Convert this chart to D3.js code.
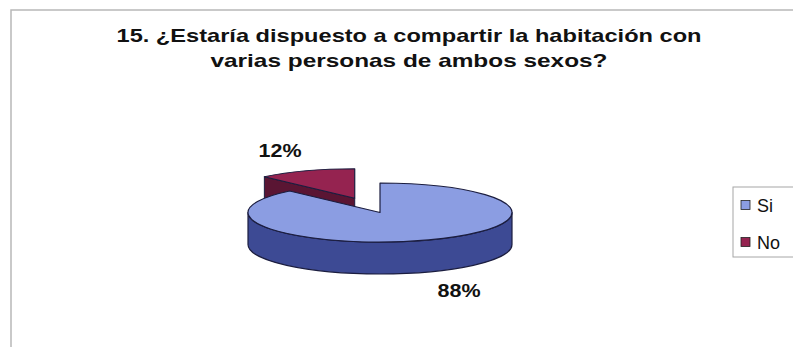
<!DOCTYPE html>
<html>
<head>
<meta charset="utf-8">
<script src="https://cdn.jsdelivr.net/npm/d3@7"></script>
<style>
  html, body { margin: 0; padding: 0; background: #ffffff; }
  svg { display: block; }
  text { font-family: "Liberation Sans", Arial, sans-serif; }
</style>
</head>
<body>
<svg id="chart" width="793" height="347"></svg>
<script>
// Survey answers (percent of respondents)
const categories = ["Si", "No"];
const values = [88, 12];
const titleLines = [
  "15. ¿Estaría dispuesto a compartir la habitación con",
  "varias personas de ambos sexos?"
];

const topColors  = ["#8b9de2", "#952350"];
const sideColors = ["#3d4a94", "#5a1533"];
const edgeColor  = "#1b1d3f";

const svg = d3.select("#chart");

// Chart area frame
svg.append("rect")
  .attr("x", 11).attr("y", 10)
  .attr("width", 820).attr("height", 400)
  .attr("fill", "none")
  .attr("stroke", "#b8b8b8")
  .attr("stroke-width", 1.5);

// Title
const titleWidths = [585, 397];
const titleY = [42, 67];
svg.selectAll("text.title")
  .data(titleLines)
  .join("text")
  .attr("class", "title")
  .attr("x", 409)
  .attr("y", (d, i) => titleY[i])
  .attr("text-anchor", "middle")
  .attr("font-size", 19)
  .attr("font-weight", "bold")
  .attr("fill", "#111")
  .attr("textLength", (d, i) => titleWidths[i])
  .attr("lengthAdjust", "spacingAndGlyphs")
  .text(d => d);

// 3D pie geometry
const cx = 380, cy = 212.5, rx = 132, ry = 29.5, depth = 32;
const explode = [0, 0.52];

const pie = d3.pie().sort(null).value(d => d.value);
const arcs = pie(categories.map((c, i) => ({ name: c, value: values[i], i })));

function offset(d) {
  const e = explode[d.index];
  const mid = (d.startAngle + d.endAngle) / 2;
  return [e * rx * Math.sin(mid), -e * ry * Math.cos(mid)];
}
function pt(a, o, dy = 0) {
  return [cx + o[0] + rx * Math.sin(a), cy + o[1] - ry * Math.cos(a) + dy];
}
function topPath(d) {
  const o = offset(d);
  const p0 = pt(d.startAngle, o), p1 = pt(d.endAngle, o);
  const large = (d.endAngle - d.startAngle) > Math.PI ? 1 : 0;
  return `M${cx + o[0]},${cy + o[1]}L${p0}A${rx},${ry} 0 ${large} 1 ${p1}Z`;
}
function sidePath(d) {
  // outer rim, only the front half (right -> bottom -> left) is visible
  const s = Math.max(d.startAngle, Math.PI / 2);
  const e = Math.min(d.endAngle, 3 * Math.PI / 2);
  if (e <= s) return null;
  const o = offset(d);
  const large = (e - s) > Math.PI ? 1 : 0;
  return `M${pt(s, o)}A${rx},${ry} 0 ${large} 1 ${pt(e, o)}` +
         `L${pt(e, o, depth)}A${rx},${ry} 0 ${large} 0 ${pt(s, o, depth)}Z`;
}
function wallPath(d, a) {
  const o = offset(d);
  const c0 = [cx + o[0], cy + o[1]], c1 = [cx + o[0], cy + o[1] + depth];
  return `M${c0}L${pt(a, o)}L${pt(a, o, depth)}L${c1}Z`;
}
function wallVisible(a, isStart) {
  // a cut face is seen when its outward normal points down the screen
  return isStart ? Math.sin(a) < -0.01 : Math.sin(a) > 0.01;
}

const pieG = svg.append("g");
// back slices first: the exploded "No" slice sits behind "Si"
const order = [1, 0];
order.forEach(k => {
  const d = arcs[k];
  const g = pieG.append("g");
  [[d.startAngle, true], [d.endAngle, false]].forEach(([a, isStart]) => {
    if (!wallVisible(a, isStart)) return;
    g.append("path")
      .attr("d", wallPath(d, a))
      .attr("fill", sideColors[k])
      .attr("stroke", edgeColor).attr("stroke-width", 1)
      .attr("stroke-linejoin", "round");
  });
  const sp = sidePath(d);
  if (sp) {
    g.append("path")
      .attr("d", sp)
      .attr("fill", sideColors[k])
      .attr("stroke", edgeColor).attr("stroke-width", 1.2)
      .attr("stroke-linejoin", "round");
  }
  g.append("path")
    .attr("d", topPath(d))
    .attr("fill", topColors[k])
    .attr("stroke", edgeColor).attr("stroke-width", 1.2)
    .attr("stroke-linejoin", "round");
});

// Percentage labels
const labelPos = [[459, 297], [280, 157]];
svg.selectAll("text.pct")
  .data(arcs)
  .join("text")
  .attr("class", "pct")
  .attr("x", d => labelPos[d.index][0])
  .attr("y", d => labelPos[d.index][1])
  .attr("text-anchor", "middle")
  .attr("font-size", 19)
  .attr("font-weight", "bold")
  .attr("fill", "#111")
  .attr("textLength", 43)
  .attr("lengthAdjust", "spacingAndGlyphs")
  .text(d => d.data.value + "%");

// Legend
const legend = svg.append("g");
legend.append("rect")
  .attr("x", 733).attr("y", 187)
  .attr("width", 80).attr("height", 70)
  .attr("fill", "#fff")
  .attr("stroke", "#a6a6a6").attr("stroke-width", 1);
const rowY = [205, 242];
categories.forEach((c, i) => {
  legend.append("rect")
    .attr("x", 741).attr("y", rowY[i] - 4.5)
    .attr("width", 9).attr("height", 9)
    .attr("fill", topColors[i])
    .attr("stroke", "#222").attr("stroke-width", 0.8);
  legend.append("text")
    .attr("x", 757).attr("y", rowY[i] + 6.5)
    .attr("font-size", 18)
    .attr("fill", "#111")
    .text(c);
});
</script>
</body>
</html>
